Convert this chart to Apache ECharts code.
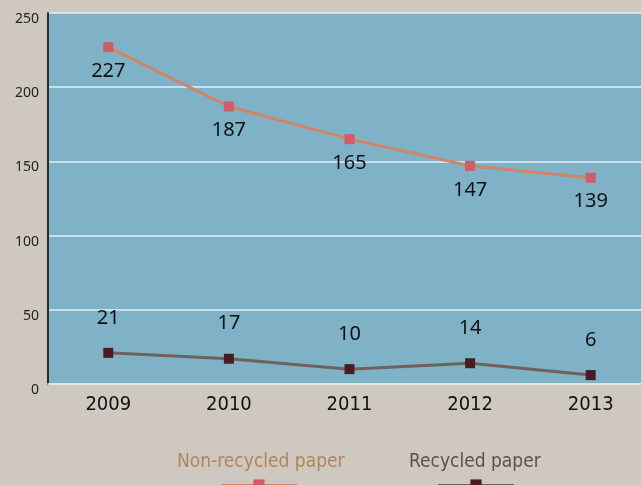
<!DOCTYPE html>
<html>
<head>
<meta charset="utf-8">
<script src="https://cdn.jsdelivr.net/npm/echarts@6/dist/echarts.min.js"></script>
<style>
  html, body { margin: 0; padding: 0; background: #cfc8c1; }
  #chart { width: 641px; height: 485px; }
</style>
</head>
<body>
<div id="chart"></div>
<script>
// data
const years = ['2009', '2010', '2011', '2012', '2013']
const nonRecycled = [227, 187, 165, 147, 139]
const recycled = [21, 17, 10, 14, 6]

const NARROW = '"Liberation Sans Narrow", "DejaVu Sans Condensed", sans-serif'
const NON_NAME = 'Non-recycled paper'
const REC_NAME = 'Recycled paper'

var chart = echarts.init(document.getElementById('chart'))

// text-only legend entry
function textLegend(name, color, left) {
  return {
    data: [{ name: name, textStyle: { color: color } }],
    left: left, top: 453, padding: 0,
    itemWidth: 0, itemHeight: 0,
    itemStyle: { opacity: 0 },
    lineStyle: { opacity: 0 },
    selectedMode: false,
    textStyle: { fontFamily: NARROW, fontSize: 19, padding: [0, 0, 0, -5] }
  }
}

// icon-only legend entry (sits at the very bottom, partly cut off)
function iconLegend(name, left) {
  return {
    data: [name],
    left: left, top: 478, padding: 0,
    itemWidth: 76, itemHeight: 14,
    selectedMode: false,
    formatter: () => ''
  }
}

chart.setOption({
  backgroundColor: '#cfc8c1',
  animation: false,
  grid: {
    left: 48, top: 13, width: 603, height: 371,
    outerBoundsMode: 'none', containLabel: false,
    show: true, backgroundColor: '#7fb1c7', borderWidth: 0
  },
  legend: [
    textLegend(NON_NAME, '#b0855a', 176),
    textLegend(REC_NAME, '#5b514c', 408),
    iconLegend(NON_NAME, 220),
    iconLegend(REC_NAME, 437)
  ],
  xAxis: {
    type: 'category',
    data: years,
    boundaryGap: true,
    axisLine: { lineStyle: { color: '#e6e6e6', width: 1.5 } },
    axisTick: { show: false },
    axisLabel: { fontFamily: NARROW, fontSize: 20, color: '#111', margin: 11 }
  },
  yAxis: {
    type: 'value',
    min: 0, max: 250, interval: 50,
    axisLine: { show: true, lineStyle: { color: '#2a2a2a', width: 2 } },
    axisTick: { show: false },
    splitLine: { lineStyle: { color: '#dff1f7', width: 1.5 } },
    axisLabel: {
      fontFamily: '"Noto Sans", sans-serif', fontSize: 14, color: '#222',
      margin: 9, verticalAlign: 'top', padding: [-1, 0, 0, 0]
    }
  },
  series: [{
    name: NON_NAME,
    type: 'line',
    data: nonRecycled,
    symbol: 'rect', symbolSize: 10,
    itemStyle: { color: '#cf5c68' },
    lineStyle: { color: '#cf8566', width: 3 },
    label: {
      show: true, position: 'bottom', distance: 9,
      fontFamily: '"Noto Sans", sans-serif', fontSize: 20, color: '#111'
    }
  }, {
    name: REC_NAME,
    type: 'line',
    data: recycled,
    symbol: 'rect', symbolSize: 10,
    itemStyle: { color: '#4a1b22' },
    lineStyle: { color: '#6f625a', width: 3 },
    label: {
      show: true, position: 'top', distance: 20,
      fontFamily: '"Noto Sans", sans-serif', fontSize: 20, color: '#111'
    }
  }]
})
</script>
</body>
</html>
